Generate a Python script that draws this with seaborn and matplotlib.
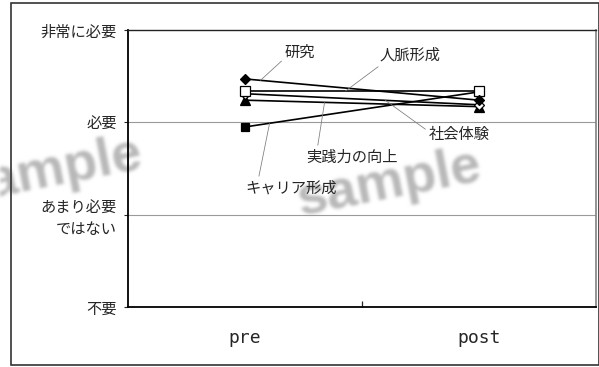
import numpy as np
import pandas as pd
import matplotlib
matplotlib.use("Agg")
import matplotlib.pyplot as plt
import seaborn as sns
from matplotlib.patches import Rectangle

# survey phases and answer scale
phases = ["pre", "post"]
level_values = [1, 2, 3, 4]
level_labels = ["不要", "あまり必要\nではない", "必要", "非常に必要"]

# mean scores per item (pre, post)
item_names = ["キャリア形成", "実践力の向上", "社会体験", "人脈形成", "研究"]
career = [2.95, 3.33]
practice = [3.24, 3.17]
social = [3.31, 3.19]
network = [3.34, 3.34]
research = [3.47, 3.24]
scores = [career, practice, social, network, research]

df = pd.DataFrame({
    "phase": phases * len(item_names),
    "score": [v for s in scores for v in s],
    "item": np.repeat(item_names, 2),
})

sns.set_style("white")
plt.rcParams["font.family"] = ["Noto Sans CJK JP", "DejaVu Sans"]

W, H = 599, 367
fig = plt.figure(figsize=(W / 100, H / 100), dpi=100)
ax = fig.add_axes([128 / W, 1 - 307 / H, (596 - 128) / W, (307 - 30) / H])
ax.patch.set_alpha(0)

marker_style = {
    "キャリア形成": dict(marker="s", markerfacecolor="black", markersize=6),
    "実践力の向上": dict(marker="^", markerfacecolor="black", markersize=7),
    "社会体験": dict(marker="D", markerfacecolor="white", markersize=5.5),
    "人脈形成": dict(marker="s", markerfacecolor="white", markersize=6.5),
    "研究": dict(marker="D", markerfacecolor="black", markersize=5.5),
}

for name in item_names:
    sub = df[df["item"] == name]
    sns.lineplot(data=sub, x="phase", y="score", ax=ax, color="black",
                 lw=1.2, sort=False, errorbar=None, legend=False,
                 markeredgecolor="black", markeredgewidth=0.9,
                 **marker_style[name])

ax.set_xlim(-0.5, 1.5)
ax.set_ylim(1, 4)
ax.set_xlabel("")
ax.set_ylabel("")

ax.set_yticks(level_values)
ax.set_yticklabels(level_labels, fontsize=11, linespacing=1.35)
ax.tick_params(axis="y", direction="out", length=3, width=0.8, pad=5, left=True)

ax.set_xticks([0, 1])
ax.set_xticklabels(phases, family="DejaVu Sans Mono", fontsize=13)
ax.tick_params(axis="x", which="major", length=0, pad=16)
ax.set_xticks([0.5], minor=True)
ax.tick_params(axis="x", which="minor", direction="in", length=4,
               width=0.9, bottom=True)

for y in [2, 3]:
    ax.axhline(y, color="#9a9a9a", lw=0.8, zorder=0)

ax.spines["left"].set(color="black", lw=1.3)
ax.spines["bottom"].set(color="black", lw=1.3)
ax.spines["top"].set(color="#222222", lw=1.0)
ax.spines["right"].set(color="#808080", lw=1.2)
ax.grid(False)

# item labels with leader lines: (name, values, t along line, text x, text y, relpos)
labels = [
    ("研究", research, 0.066, 0.17, 3.76, (0.0, 0.15)),
    ("人脈形成", network, 0.43, 0.575, 3.73, (0.05, 0.0)),
    ("社会体験", social, 0.60, 0.785, 2.863, (0.0, 0.7)),
    ("実践力の向上", practice, 0.34, 0.262, 2.624, (0.12, 1.0)),
    ("キャリア形成", career, 0.105, 0.002, 2.289, (0.14, 1.0)),
]
for name, vals, t, tx, ty, rp in labels:
    y_on = vals[0] + t * (vals[1] - vals[0])
    ax.annotate(name, xy=(t, y_on), xytext=(tx, ty), textcoords="data",
                ha="left", va="center", fontsize=11,
                arrowprops=dict(arrowstyle="-", color="#7a7a7a", lw=0.55,
                                relpos=rp, shrinkA=0, shrinkB=0))


def soft_blur(sigma, gray):
    def _filter(im, dpi):
        pad = int(3 * sigma) + 2
        a = np.pad(im[..., 3], pad)
        x = np.arange(-pad, pad + 1)
        k = np.exp(-x ** 2 / (2 * sigma ** 2))
        k /= k.sum()
        out = np.zeros_like(a)
        for i, w in enumerate(k):
            out += w * np.roll(a, i - pad, axis=0)
        a = out
        out = np.zeros_like(a)
        for i, w in enumerate(k):
            out += w * np.roll(a, i - pad, axis=1)
        res = np.zeros(out.shape + (4,))
        res[..., :3] = gray
        res[..., 3] = out
        return res, -pad, -pad
    return _filter


for cx, cy in [(50, 172), (389, 184)]:
    wm = fig.text(cx / W, 1 - cy / H, "sample", family="Liberation Sans",
                  fontweight="bold", fontsize=39, color="#b4b4b4",
                  rotation=11, ha="center", va="center",
                  rotation_mode="anchor", zorder=-5)
    wm.set_agg_filter(soft_blur(1.6, 0.72))

fig.add_artist(Rectangle((10.5 / W, 2 / H), (598.5 - 10.5) / W, (364 - 2) / H,
                         transform=fig.transFigure, fill=False,
                         edgecolor="#333333", lw=1.2, zorder=10))

fig.savefig("out.png", dpi=100)
